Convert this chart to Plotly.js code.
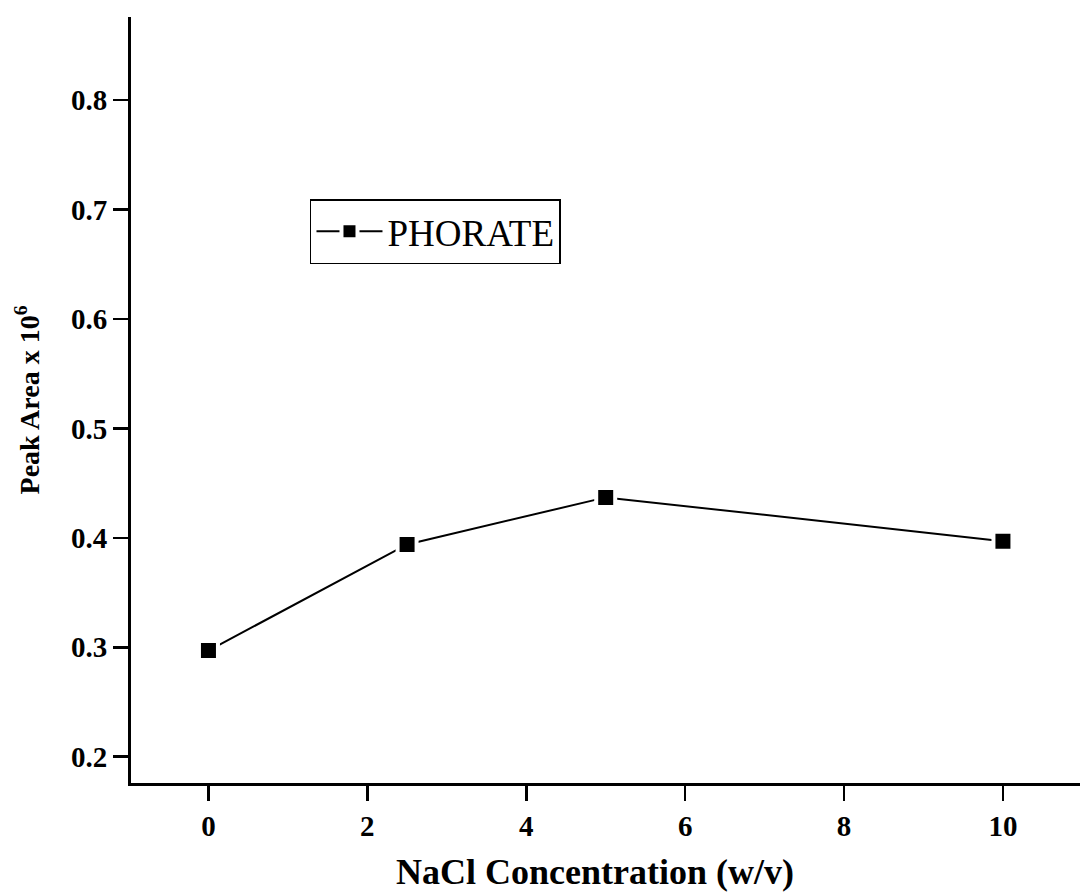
<!DOCTYPE html>
<html>
<head>
<meta charset="utf-8">
<script src="https://cdn.plot.ly/plotly-3.0.1.min.js"></script>
<style>
  html, body { margin: 0; padding: 0; background: #ffffff; }
  #chart { width: 1080px; height: 893px; }
</style>
</head>
<body>
<div id="chart"></div>
<script>
// NaCl concentration (w/v) and phorate peak area (x 10^6)
const nacl = [0, 2.5, 5, 10];
const phorateArea = [0.297, 0.394, 0.437, 0.397];
const seriesName = 'PHORATE';
const xTicks = [0, 2, 4, 6, 8, 10];
const yTicks = [0.2, 0.3, 0.4, 0.5, 0.6, 0.7, 0.8];
const xTitle = 'NaCl Concentration (w/v)';
const yTitle = 'Peak Area x 10<sup>6</sup>';

const serif = 'Liberation Serif, Times New Roman, serif';

const trace = {
  x: nacl,
  y: phorateArea,
  name: seriesName,
  type: 'scatter',
  mode: 'lines+markers',
  line: { color: '#000000', width: 2 },
  marker: {
    symbol: 'square',
    size: 19,
    color: '#000000',
    line: { color: '#ffffff', width: 4 }
  }
};

const axisCommon = {
  showgrid: false,
  zeroline: false,
  showline: true,
  linecolor: '#000000',
  linewidth: 3,
  ticks: 'outside',
  ticklen: 15,
  tickwidth: 2.5,
  tickcolor: '#000000',
  tickfont: { family: serif, size: 29, color: '#000000', weight: 'bold' },
  mirror: false
};

const layout = {
  width: 1080,
  height: 893,
  margin: { l: 131, r: 0, t: 17, b: 110 },
  paper_bgcolor: '#ffffff',
  plot_bgcolor: '#ffffff',
  showlegend: true,
  legend: {
    x: 0.1886, y: 0.762, xanchor: 'left', yanchor: 'top',
    bordercolor: '#000000', borderwidth: 1.5, bgcolor: '#ffffff',
    font: { family: serif, size: 37, color: '#000000' },
    itemwidth: 66,
    tracegroupgap: 0
  },
  xaxis: Object.assign({}, axisCommon, {
    range: [-0.975, 10.97],
    tickmode: 'array',
    tickvals: xTicks,
    ticktext: xTicks.map(String)
  }),
  yaxis: Object.assign({}, axisCommon, {
    range: [0.176, 0.876],
    tickmode: 'array',
    tickvals: yTicks,
    ticktext: yTicks.map(v => v.toFixed(1)),
    title: {
      text: yTitle,
      font: { family: serif, size: 28, color: '#000000', weight: 'bold' },
      standoff: 24
    }
  }),
  annotations: [{
    text: xTitle,
    xref: 'paper', yref: 'paper',
    x: 0.489, y: -0.088,
    xanchor: 'center', yanchor: 'top',
    showarrow: false,
    font: { family: serif, size: 36, color: '#000000', weight: 'bold' }
  }]
};

Plotly.newPlot('chart', [trace], layout, { displayModeBar: false, staticPlot: true });
</script>
</body>
</html>
